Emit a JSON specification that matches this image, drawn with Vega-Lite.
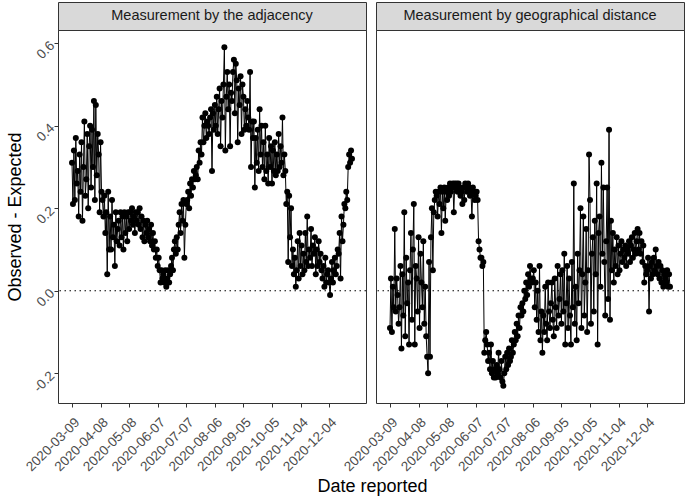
{
"$schema": "https://vega.github.io/schema/vega-lite/v6.json",
"padding": {"left": 6, "top": 1, "right": 1, "bottom": 1},
"background": "white",
"config": {
  "font": "Liberation Sans",
  "view": {"stroke": null},
  "axis": {"labelColor": "#4d4d4d", "labelFontSize": 13.5, "titleFontSize": 18, "titleFontWeight": "normal", "titleColor": "#000000", "tickColor": "#333333", "tickSize": 4, "labelPadding": 2, "grid": false, "domain": false, "labelOverlap": false}
},
"title": {"text": "Date reported", "orient": "bottom", "anchor": "middle", "fontSize": 18, "fontWeight": "normal", "color": "#000000", "offset": 4, "dx": 27},
"data": {"values": [
{"d":"2020-03-09","a":0.31,"g":-0.09},{"d":"2020-03-10","a":0.21,"g":0.03},{"d":"2020-03-11","a":0.34,"g":-0.10},{"d":"2020-03-12","a":0.22,"g":0.01},{"d":"2020-03-13","a":0.37,"g":-0.04},{"d":"2020-03-14","a":0.26,"g":0.15},{"d":"2020-03-15","a":0.29,"g":-0.05},{"d":"2020-03-16","a":0.18,"g":0.03},{"d":"2020-03-17","a":0.33,"g":-0.01},{"d":"2020-03-18","a":0.24,"g":-0.08},
{"d":"2020-03-19","a":0.36,"g":-0.04},{"d":"2020-03-20","a":0.17,"g":0.06},{"d":"2020-03-21","a":0.30,"g":-0.14},{"d":"2020-03-22","a":0.41,"g":0.04},{"d":"2020-03-23","a":0.23,"g":-0.06},{"d":"2020-03-24","a":0.27,"g":0.19},{"d":"2020-03-25","a":0.38,"g":-0.11},{"d":"2020-03-26","a":0.20,"g":0.08},{"d":"2020-03-27","a":0.35,"g":-0.03},{"d":"2020-03-28","a":0.40,"g":0.02},
{"d":"2020-03-29","a":0.25,"g":-0.13},{"d":"2020-03-30","a":0.39,"g":0.05},{"d":"2020-03-31","a":0.30,"g":0.14},{"d":"2020-04-01","a":0.46,"g":-0.07},{"d":"2020-04-02","a":0.22,"g":0.10},{"d":"2020-04-03","a":0.45,"g":0.21},{"d":"2020-04-04","a":0.28,"g":-0.13},{"d":"2020-04-05","a":0.38,"g":0.06},{"d":"2020-04-06","a":0.33,"g":0.03},{"d":"2020-04-07","a":0.19,"g":-0.05},
{"d":"2020-04-08","a":0.36,"g":0.13},{"d":"2020-04-09","a":0.24,"g":-0.09},{"d":"2020-04-10","a":0.22,"g":0.09},{"d":"2020-04-11","a":0.18,"g":0.02},{"d":"2020-04-12","a":0.23,"g":-0.04},{"d":"2020-04-13","a":0.14,"g":0.12},{"d":"2020-04-14","a":0.19,"g":-0.08},{"d":"2020-04-15","a":0.04,"g":0.01},{"d":"2020-04-16","a":0.24,"g":-0.11},{"d":"2020-04-17","a":0.10,"g":-0.16},
{"d":"2020-04-18","a":0.18,"g":-0.20},{"d":"2020-04-19","a":0.10,"g":0.07},{"d":"2020-04-20","a":0.22,"g":-0.16},{"d":"2020-04-21","a":0.13,"g":0.13},{"d":"2020-04-22","a":0.16,"g":0.20},{"d":"2020-04-23","a":0.06,"g":0.05},{"d":"2020-04-24","a":0.19,"g":0.19},{"d":"2020-04-25","a":0.12,"g":0.22},{"d":"2020-04-26","a":0.15,"g":0.24},{"d":"2020-04-27","a":0.17,"g":0.23},
{"d":"2020-04-28","a":0.11,"g":0.18},{"d":"2020-04-29","a":0.19,"g":0.24},{"d":"2020-04-30","a":0.13,"g":0.21},{"d":"2020-05-01","a":0.18,"g":0.25},{"d":"2020-05-02","a":0.10,"g":0.14},{"d":"2020-05-03","a":0.19,"g":0.24},{"d":"2020-05-04","a":0.14,"g":0.20},{"d":"2020-05-05","a":0.18,"g":0.25},{"d":"2020-05-06","a":0.12,"g":0.17},{"d":"2020-05-07","a":0.19,"g":0.24},
{"d":"2020-05-08","a":0.15,"g":0.22},{"d":"2020-05-09","a":0.19,"g":0.25},{"d":"2020-05-10","a":0.17,"g":0.23},{"d":"2020-05-11","a":0.20,"g":0.26},{"d":"2020-05-12","a":0.16,"g":0.24},{"d":"2020-05-13","a":0.18,"g":0.25},{"d":"2020-05-14","a":0.14,"g":0.26},{"d":"2020-05-15","a":0.19,"g":0.19},{"d":"2020-05-16","a":0.17,"g":0.26},{"d":"2020-05-17","a":0.19,"g":0.25},
{"d":"2020-05-18","a":0.16,"g":0.26},{"d":"2020-05-19","a":0.20,"g":0.24},{"d":"2020-05-20","a":0.15,"g":0.26},{"d":"2020-05-21","a":0.18,"g":0.25},{"d":"2020-05-22","a":0.13,"g":0.23},{"d":"2020-05-23","a":0.17,"g":0.24},{"d":"2020-05-24","a":0.12,"g":0.21},{"d":"2020-05-25","a":0.16,"g":0.25},{"d":"2020-05-26","a":0.14,"g":0.22},{"d":"2020-05-27","a":0.17,"g":0.26},
{"d":"2020-05-28","a":0.13,"g":0.25},{"d":"2020-05-29","a":0.15,"g":0.24},{"d":"2020-05-30","a":0.12,"g":0.26},{"d":"2020-05-31","a":0.16,"g":0.25},{"d":"2020-06-01","a":0.11,"g":0.23},{"d":"2020-06-02","a":0.14,"g":0.24},{"d":"2020-06-03","a":0.10,"g":0.18},{"d":"2020-06-04","a":0.12,"g":0.25},{"d":"2020-06-05","a":0.08,"g":0.24},{"d":"2020-06-06","a":0.10,"g":0.22},
{"d":"2020-06-07","a":0.06,"g":0.23},{"d":"2020-06-08","a":0.08,"g":0.24},{"d":"2020-06-09","a":0.05,"g":0.22},{"d":"2020-06-10","a":0.02,"g":0.12},{"d":"2020-06-11","a":0.05,"g":0.10},{"d":"2020-06-12","a":0.03,"g":0.08},{"d":"2020-06-13","a":0.04,"g":0.08},{"d":"2020-06-14","a":0.02,"g":0.06},{"d":"2020-06-15","a":0.05,"g":0.07},{"d":"2020-06-16","a":0.01,"g":-0.15},
{"d":"2020-06-17","a":0.03,"g":-0.12},{"d":"2020-06-18","a":0.05,"g":-0.10},{"d":"2020-06-19","a":0.02,"g":-0.13},{"d":"2020-06-20","a":0.04,"g":-0.17},{"d":"2020-06-21","a":0.06,"g":-0.15},{"d":"2020-06-22","a":0.08,"g":-0.19},{"d":"2020-06-23","a":0.05,"g":-0.13},{"d":"2020-06-24","a":0.10,"g":-0.20},{"d":"2020-06-25","a":0.12,"g":-0.17},{"d":"2020-06-26","a":0.09,"g":-0.21},
{"d":"2020-06-27","a":0.13,"g":-0.19},{"d":"2020-06-28","a":0.10,"g":-0.21},{"d":"2020-06-29","a":0.16,"g":-0.18},{"d":"2020-06-30","a":0.19,"g":-0.20},{"d":"2020-07-01","a":0.14,"g":-0.15},{"d":"2020-07-02","a":0.21,"g":-0.19},{"d":"2020-07-03","a":0.17,"g":-0.21},{"d":"2020-07-04","a":0.22,"g":-0.17},{"d":"2020-07-05","a":0.08,"g":-0.22},{"d":"2020-07-06","a":0.16,"g":-0.23},
{"d":"2020-07-07","a":0.21,"g":-0.20},{"d":"2020-07-08","a":0.22,"g":-0.16},{"d":"2020-07-09","a":0.24,"g":-0.19},{"d":"2020-07-10","a":0.20,"g":-0.15},{"d":"2020-07-11","a":0.26,"g":-0.18},{"d":"2020-07-12","a":0.23,"g":-0.14},{"d":"2020-07-13","a":0.27,"g":-0.17},{"d":"2020-07-14","a":0.25,"g":-0.16},{"d":"2020-07-15","a":0.29,"g":-0.12},{"d":"2020-07-16","a":0.27,"g":-0.15},
{"d":"2020-07-17","a":0.28,"g":-0.13},{"d":"2020-07-18","a":0.30,"g":-0.10},{"d":"2020-07-19","a":0.27,"g":-0.12},{"d":"2020-07-20","a":0.34,"g":-0.08},{"d":"2020-07-21","a":0.31,"g":-0.11},{"d":"2020-07-22","a":0.36,"g":-0.06},{"d":"2020-07-23","a":0.33,"g":-0.09},{"d":"2020-07-24","a":0.42,"g":-0.04},{"d":"2020-07-25","a":0.36,"g":-0.06},{"d":"2020-07-26","a":0.40,"g":-0.03},
{"d":"2020-07-27","a":0.43,"g":-0.05},{"d":"2020-07-28","a":0.37,"g":0.00},{"d":"2020-07-29","a":0.41,"g":-0.02},{"d":"2020-07-30","a":0.40,"g":0.02},{"d":"2020-07-31","a":0.38,"g":-0.01},{"d":"2020-08-01","a":0.42,"g":0.04},{"d":"2020-08-02","a":0.44,"g":0.01},{"d":"2020-08-03","a":0.29,"g":0.06},{"d":"2020-08-04","a":0.43,"g":0.03},{"d":"2020-08-05","a":0.39,"g":0.02},
{"d":"2020-08-06","a":0.45,"g":0.03},{"d":"2020-08-07","a":0.40,"g":0.05},{"d":"2020-08-08","a":0.47,"g":-0.04},{"d":"2020-08-09","a":0.38,"g":0.02},{"d":"2020-08-10","a":0.44,"g":-0.07},{"d":"2020-08-11","a":0.49,"g":0.00},{"d":"2020-08-12","a":0.35,"g":-0.10},{"d":"2020-08-13","a":0.46,"g":0.06},{"d":"2020-08-14","a":0.42,"g":-0.12},{"d":"2020-08-15","a":0.50,"g":-0.05},
{"d":"2020-08-16","a":0.59,"g":-0.15},{"d":"2020-08-17","a":0.34,"g":-0.06},{"d":"2020-08-18","a":0.47,"g":-0.10},{"d":"2020-08-19","a":0.53,"g":0.01},{"d":"2020-08-20","a":0.44,"g":-0.08},{"d":"2020-08-21","a":0.50,"g":-0.12},{"d":"2020-08-22","a":0.35,"g":0.02},{"d":"2020-08-23","a":0.48,"g":-0.05},{"d":"2020-08-24","a":0.46,"g":-0.09},{"d":"2020-08-25","a":0.53,"g":-0.03},
{"d":"2020-08-26","a":0.56,"g":0.02},{"d":"2020-08-27","a":0.43,"g":-0.07},{"d":"2020-08-28","a":0.55,"g":-0.11},{"d":"2020-08-29","a":0.51,"g":0.03},{"d":"2020-08-30","a":0.36,"g":-0.04},{"d":"2020-08-31","a":0.49,"g":-0.09},{"d":"2020-09-01","a":0.45,"g":0.06},{"d":"2020-09-02","a":0.52,"g":-0.06},{"d":"2020-09-03","a":0.38,"g":-0.02},{"d":"2020-09-04","a":0.50,"g":0.04},
{"d":"2020-09-05","a":0.47,"g":-0.08},{"d":"2020-09-06","a":0.39,"g":0.05},{"d":"2020-09-07","a":0.44,"g":-0.05},{"d":"2020-09-08","a":0.40,"g":0.09},{"d":"2020-09-09","a":0.46,"g":-0.13},{"d":"2020-09-10","a":0.42,"g":-0.03},{"d":"2020-09-11","a":0.39,"g":0.06},{"d":"2020-09-12","a":0.53,"g":-0.09},{"d":"2020-09-13","a":0.30,"g":0.03},{"d":"2020-09-14","a":0.41,"g":-0.06},
{"d":"2020-09-15","a":0.37,"g":-0.13},{"d":"2020-09-16","a":0.41,"g":0.07},{"d":"2020-09-17","a":0.25,"g":-0.04},{"d":"2020-09-18","a":0.37,"g":0.26},{"d":"2020-09-19","a":0.31,"g":-0.08},{"d":"2020-09-20","a":0.39,"g":0.01},{"d":"2020-09-21","a":0.29,"g":-0.12},{"d":"2020-09-22","a":0.44,"g":0.09},{"d":"2020-09-23","a":0.33,"g":-0.03},{"d":"2020-09-24","a":0.40,"g":0.05},
{"d":"2020-09-25","a":0.30,"g":0.20},{"d":"2020-09-26","a":0.36,"g":-0.09},{"d":"2020-09-27","a":0.27,"g":0.04},{"d":"2020-09-28","a":0.40,"g":0.18},{"d":"2020-09-29","a":0.29,"g":-0.06},{"d":"2020-09-30","a":0.33,"g":0.02},{"d":"2020-10-01","a":0.26,"g":0.15},{"d":"2020-10-02","a":0.37,"g":-0.10},{"d":"2020-10-03","a":0.30,"g":0.05},{"d":"2020-10-04","a":0.35,"g":0.33},
{"d":"2020-10-05","a":0.26,"g":0.22},{"d":"2020-10-06","a":0.34,"g":-0.08},{"d":"2020-10-07","a":0.29,"g":0.09},{"d":"2020-10-08","a":0.36,"g":0.13},{"d":"2020-10-09","a":0.28,"g":-0.05},{"d":"2020-10-10","a":0.33,"g":0.17},{"d":"2020-10-11","a":0.29,"g":0.04},{"d":"2020-10-12","a":0.38,"g":0.26},{"d":"2020-10-13","a":0.30,"g":-0.13},{"d":"2020-10-14","a":0.35,"g":0.14},
{"d":"2020-10-15","a":0.31,"g":0.18},{"d":"2020-10-16","a":0.42,"g":0.01},{"d":"2020-10-17","a":0.28,"g":0.31},{"d":"2020-10-18","a":0.33,"g":0.09},{"d":"2020-10-19","a":0.29,"g":0.25},{"d":"2020-10-20","a":0.21,"g":0.07},{"d":"2020-10-21","a":0.24,"g":-0.06},{"d":"2020-10-22","a":0.07,"g":0.12},{"d":"2020-10-23","a":0.23,"g":0.25},{"d":"2020-10-24","a":0.13,"g":-0.02},
{"d":"2020-10-25","a":0.20,"g":0.39},{"d":"2020-10-26","a":0.06,"g":-0.07},{"d":"2020-10-27","a":0.10,"g":0.17},{"d":"2020-10-28","a":0.04,"g":0.05},{"d":"2020-10-29","a":0.08,"g":0.14},{"d":"2020-10-30","a":0.01,"g":0.02},{"d":"2020-10-31","a":0.05,"g":0.10},{"d":"2020-11-01","a":0.12,"g":0.06},{"d":"2020-11-02","a":0.03,"g":0.13},{"d":"2020-11-03","a":0.14,"g":0.04},
{"d":"2020-11-04","a":0.06,"g":0.11},{"d":"2020-11-05","a":0.11,"g":0.05},{"d":"2020-11-06","a":0.04,"g":0.09},{"d":"2020-11-07","a":0.09,"g":0.12},{"d":"2020-11-08","a":0.05,"g":0.07},{"d":"2020-11-09","a":0.14,"g":0.10},{"d":"2020-11-10","a":0.07,"g":0.08},{"d":"2020-11-11","a":0.18,"g":0.11},{"d":"2020-11-12","a":0.06,"g":0.06},{"d":"2020-11-13","a":0.10,"g":0.10},
{"d":"2020-11-14","a":0.08,"g":0.09},{"d":"2020-11-15","a":0.15,"g":0.12},{"d":"2020-11-16","a":0.06,"g":0.07},{"d":"2020-11-17","a":0.11,"g":0.11},{"d":"2020-11-18","a":0.09,"g":0.13},{"d":"2020-11-19","a":0.13,"g":0.08},{"d":"2020-11-20","a":0.04,"g":0.10},{"d":"2020-11-21","a":0.10,"g":0.14},{"d":"2020-11-22","a":0.06,"g":0.09},{"d":"2020-11-23","a":0.12,"g":0.12},
{"d":"2020-11-24","a":0.07,"g":0.15},{"d":"2020-11-25","a":0.09,"g":0.10},{"d":"2020-11-26","a":0.05,"g":0.14},{"d":"2020-11-27","a":0.03,"g":0.09},{"d":"2020-11-28","a":0.06,"g":0.12},{"d":"2020-11-29","a":0.01,"g":0.07},{"d":"2020-11-30","a":0.08,"g":0.11},{"d":"2020-12-01","a":0.02,"g":0.02},{"d":"2020-12-02","a":0.04,"g":0.06},{"d":"2020-12-03","a":0.05,"g":0.04},
{"d":"2020-12-04","a":0.02,"g":0.05},{"d":"2020-12-05","a":-0.01,"g":0.08},{"d":"2020-12-06","a":0.03,"g":-0.05},{"d":"2020-12-07","a":0.07,"g":0.06},{"d":"2020-12-08","a":0.02,"g":0.03},{"d":"2020-12-09","a":0.05,"g":0.07},{"d":"2020-12-10","a":0.08,"g":0.04},{"d":"2020-12-11","a":0.04,"g":0.08},{"d":"2020-12-12","a":0.06,"g":0.05},{"d":"2020-12-13","a":0.10,"g":0.10},
{"d":"2020-12-14","a":0.09,"g":0.06},{"d":"2020-12-15","a":0.14,"g":0.04},{"d":"2020-12-16","a":0.03,"g":0.07},{"d":"2020-12-17","a":0.18,"g":0.03},{"d":"2020-12-18","a":0.12,"g":0.06},{"d":"2020-12-19","a":0.16,"g":0.02},{"d":"2020-12-20","a":0.21,"g":0.05},{"d":"2020-12-21","a":0.20,"g":0.01},{"d":"2020-12-22","a":0.24,"g":0.04},{"d":"2020-12-23","a":0.22,"g":0.03},
{"d":"2020-12-24","a":0.30,"g":0.02},{"d":"2020-12-25","a":0.33,"g":0.05},{"d":"2020-12-26","a":0.31,"g":0.01},{"d":"2020-12-27","a":0.34,"g":0.04},{"d":"2020-12-28","a":0.32,"g":0.01}
]},
"columns": 2,
"bounds": "flush",
"spacing": {"row": 0, "column": 10},
"concat": [
  {
    "data": {"values": [{"t": "Measurement by the adjacency"}]},
    "width": 308, "height": 28,
    "view": {"fill": "#d9d9d9", "stroke": "#333333", "strokeWidth": 1},
    "mark": {"type": "text", "fontSize": 14.5, "color": "#1a1a1a", "font": "Liberation Sans"},
    "encoding": {"text": {"field": "t"}}
  },
  {
    "data": {"values": [{"t": "Measurement by geographical distance"}]},
    "width": 308, "height": 28,
    "view": {"fill": "#d9d9d9", "stroke": "#333333", "strokeWidth": 1},
    "mark": {"type": "text", "fontSize": 14.5, "color": "#1a1a1a", "font": "Liberation Sans"},
    "encoding": {"text": {"field": "t"}}
  },
  {
    "width": 308, "height": 373,
    "view": {"stroke": "#333333", "strokeWidth": 1},
    "layer": [
      {
        "mark": {"type": "line", "color": "#000000", "strokeWidth": 1, "point": {"filled": true, "size": 36, "color": "#000000", "opacity": 1}},
        "encoding": {
          "x": {"field": "d", "type": "temporal", "title": null,
                "scale": {"type": "utc", "domain": [{"year": 2020, "month": 2, "date": 23, "hours": 7, "utc": true}, {"year": 2021, "month": 1, "date": 11, "hours": 17, "utc": true}]},
                "axis": {"labelExpr": "utcFormat(datum.value, '%Y-%m-%d')", "labelAngle": -45, "labelAlign": "right", "labelBaseline": "top", "labelPadding": 8, "values": [
                  {"year": 2020, "month": 3, "date": 9, "utc": true}, {"year": 2020, "month": 4, "date": 8, "utc": true}, {"year": 2020, "month": 5, "date": 8, "utc": true}, {"year": 2020, "month": 6, "date": 7, "utc": true}, {"year": 2020, "month": 7, "date": 7, "utc": true}, {"year": 2020, "month": 8, "date": 6, "utc": true}, {"year": 2020, "month": 9, "date": 5, "utc": true}, {"year": 2020, "month": 10, "date": 5, "utc": true}, {"year": 2020, "month": 11, "date": 4, "utc": true}, {"year": 2020, "month": 12, "date": 4, "utc": true}]}},
          "y": {"field": "a", "type": "quantitative", "title": "Observed - Expected", "scale": {"domain": [-0.272, 0.632], "nice": false, "zero": false},
                "axis": {"title": "Observed - Expected", "values": [-0.2, 0, 0.2, 0.4, 0.6], "labelExpr": "replace(format(datum.value, '.1f'), '\u2212', '-')", "labelAngle": -45, "labelAlign": "right", "labelBaseline": "middle", "titlePadding": 6}}
        }
      },
      {
        "data": {"values": [{"a": 0}]},
        "mark": {"type": "rule", "color": "#000000", "strokeDash": [1.5, 3.5], "strokeWidth": 1.1},
        "encoding": {"y": {"field": "a", "type": "quantitative", "title": "Observed - Expected"}}
      }
    ]
  },
  {
    "width": 308, "height": 373,
    "view": {"stroke": "#333333", "strokeWidth": 1},
    "layer": [
      {
        "mark": {"type": "line", "color": "#000000", "strokeWidth": 1, "point": {"filled": true, "size": 36, "color": "#000000", "opacity": 1}},
        "encoding": {
          "x": {"field": "d", "type": "temporal", "title": null,
                "scale": {"type": "utc", "domain": [{"year": 2020, "month": 2, "date": 23, "hours": 7, "utc": true}, {"year": 2021, "month": 1, "date": 11, "hours": 17, "utc": true}]},
                "axis": {"labelExpr": "utcFormat(datum.value, '%Y-%m-%d')", "labelAngle": -45, "labelAlign": "right", "labelBaseline": "top", "labelPadding": 8, "values": [
                  {"year": 2020, "month": 3, "date": 9, "utc": true}, {"year": 2020, "month": 4, "date": 8, "utc": true}, {"year": 2020, "month": 5, "date": 8, "utc": true}, {"year": 2020, "month": 6, "date": 7, "utc": true}, {"year": 2020, "month": 7, "date": 7, "utc": true}, {"year": 2020, "month": 8, "date": 6, "utc": true}, {"year": 2020, "month": 9, "date": 5, "utc": true}, {"year": 2020, "month": 10, "date": 5, "utc": true}, {"year": 2020, "month": 11, "date": 4, "utc": true}, {"year": 2020, "month": 12, "date": 4, "utc": true}]}},
          "y": {"field": "g", "type": "quantitative", "scale": {"domain": [-0.272, 0.632], "nice": false, "zero": false}, "axis": null}
        }
      },
      {
        "data": {"values": [{"g": 0}]},
        "mark": {"type": "rule", "color": "#000000", "strokeDash": [1.5, 3.5], "strokeWidth": 1.1},
        "encoding": {"y": {"field": "g", "type": "quantitative", "axis": null}}
      }
    ]
  }
]
}
